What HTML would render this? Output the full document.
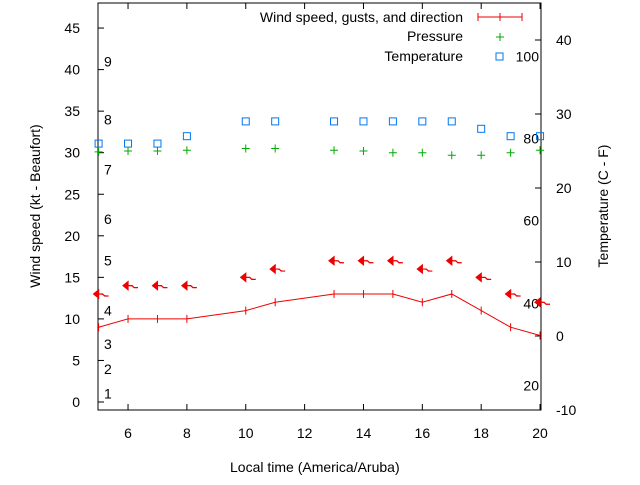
<!DOCTYPE html>
<html><head><meta charset="utf-8"><style>
body{margin:0;background:#fff;}
svg{font-family:"Liberation Sans",sans-serif;font-size:14px;}
</style></head><body>
<svg id="c" width="640" height="480">
<rect x="98" y="3" width="443" height="407" fill="none" stroke="#000"/>
<g id="ax"></g><g id="marks"></g>
<text x="230" y="472">Local time (America/Aruba)</text>
<text transform="translate(40,206) rotate(-90)" text-anchor="middle">Wind speed (kt - Beaufort)</text>
<text transform="translate(608,206) rotate(-90)" text-anchor="middle">Temperature (C - F)</text>
<g>
<text x="463" y="22" text-anchor="end">Wind speed, gusts, and direction</text>
<line x1="478" y1="17" x2="522" y2="17" stroke="#e00"/>
<text x="463" y="41" text-anchor="end">Pressure</text>
<text x="463" y="61" text-anchor="end">Temperature</text>
</g>
</svg>
<script>
const hours=[5,6,7,8,10,11,13,14,15,16,17,18,19,20];
const wind=[9,10,10,10,11,12,13,13,13,12,13,11,9,8];
const arrowY=[13,14,14,14,15,16,17,17,17,16,17,15,13,12];
const pressure=[30.1,30.2,30.2,30.3,30.5,30.5,30.3,30.2,30.0,30.0,29.7,29.7,30.0,30.3];
const temp=[26,26,26,27,29,29,29,29,29,29,29,28,27,27];
const xTicks=[6,8,10,12,14,16,18,20];
const yTicks=[0,5,10,15,20,25,30,35,40,45];
const y2Ticks=[-10,0,10,20,30,40];
const beaufort=[[1,1],[2,4],[3,7],[4,11],[5,17],[6,22],[7,28],[8,34],[9,41]];
const fahr=[[20,-6.7],[40,4.4],[60,15.6],[80,26.7],[100,37.8]];
const NS='http://www.w3.org/2000/svg';
const X=h=>98.6+(h-5)*29.43, Y=v=>402-v*8.31, Y2=v=>336-v*7.4;
function mk(t,a,p){const e=document.createElementNS(NS,t);for(const k in a)e.setAttribute(k,a[k]);(p||document.getElementById('marks')).appendChild(e);return e;}
const ax=document.getElementById('ax');
xTicks.forEach(t=>{const x=X(t);mk('line',{x1:x,y1:410,x2:x,y2:404,stroke:'#000'},ax);mk('line',{x1:x,y1:3,x2:x,y2:9,stroke:'#000'},ax);
const e=mk('text',{x:x,y:438,'text-anchor':'middle'},ax);e.textContent=t;

});
yTicks.forEach(t=>{const y=Y(t);mk('line',{x1:98,y1:y,x2:104,y2:y,stroke:'#000'},ax);
const e=mk('text',{x:80,y:y+5,'text-anchor':'end'},ax);e.textContent=t;

});
y2Ticks.forEach(t=>{const y=Y2(t);mk('line',{x1:541,y1:y,x2:535,y2:y,stroke:'#000'},ax);
const e=mk('text',{x:556,y:y+5},ax);e.textContent=t;

});
beaufort.forEach(b=>{const e=mk('text',{x:104,y:Y(b[1])+5},ax);e.textContent=b[0];

});
fahr.forEach(f=>{const e=mk('text',{x:539,y:Y2(f[1])+5,'text-anchor':'end'},ax);e.textContent=f[0];

});
mk('line',{x1:500,y1:13,x2:500,y2:21,stroke:'#e00'});
mk('line',{x1:478,y1:13,x2:478,y2:21,stroke:'#e00'});mk('line',{x1:522,y1:13,x2:522,y2:21,stroke:'#e00'});
mk('path',{d:'M496 37h8M500 33v8',stroke:'#0a0',fill:'none'});
mk('rect',{x:496,y:53,width:7,height:7,fill:'none',stroke:'#07e'});
const pl=mk('polyline',{points:hours.map((h,i)=>X(h)+','+Y(wind[i])).join(' '),fill:'none',stroke:'#e00'});


hours.forEach((h,i)=>{
const x=X(h),y=Y(wind[i]);
const t=mk('path',{d:`M${x} ${y-4}v8`,stroke:'#e00'});


const ay=Y(arrowY[i]);
const a=mk('path',{d:`M${x-5} ${ay}l5 -4l0 8z M${x} ${ay}h4l2 2h4`,stroke:'#e00',fill:'#e00','stroke-width':1.2});


const p=mk('path',{d:`M${X(h)-4} ${Y(pressure[i])}h8M${X(h)} ${Y(pressure[i])-4}v8`,stroke:'#0a0',fill:'none'});


const s=mk('rect',{x:X(h)-3.5,y:Y2(temp[i])-3.5,width:7,height:7,fill:'none',stroke:'#07e'});


});
</script>
</body></html>
